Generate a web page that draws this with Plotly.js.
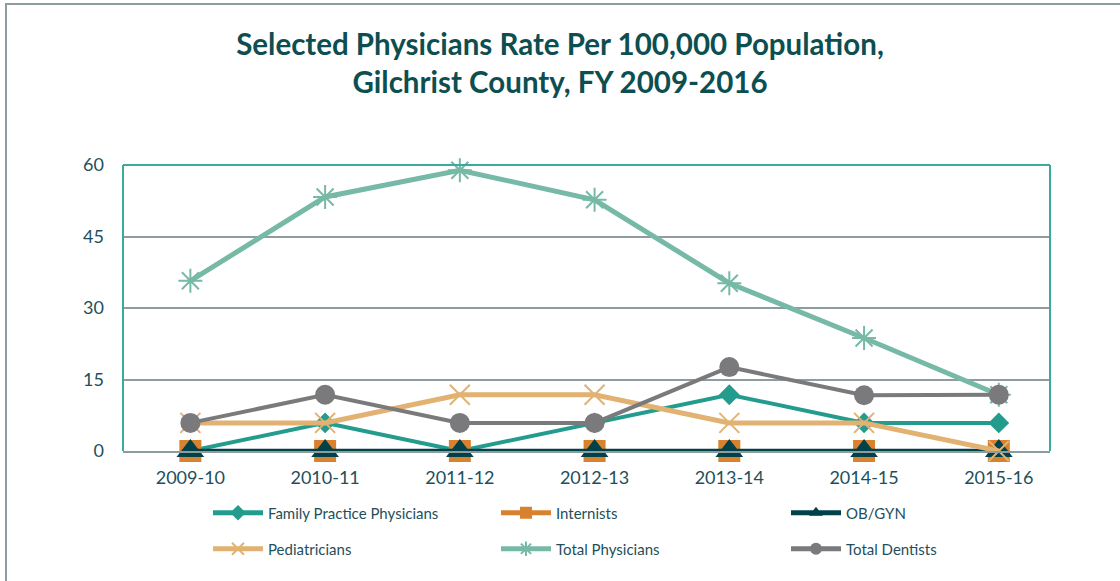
<!DOCTYPE html>
<html>
<head>
<meta charset="utf-8">
<script src="https://cdn.plot.ly/plotly-3.0.1.min.js"></script>
<style>
html,body{margin:0;padding:0;background:#fff;}
#wrap{position:relative;width:1120px;height:581px;overflow:hidden;}
#chart{position:absolute;left:0;top:0;width:1120px;height:581px;}
#ft{position:absolute;left:5px;top:3px;width:1115px;height:2px;background:#8C9CA0;}
#fl{position:absolute;left:5px;top:3px;width:2px;height:578px;background:#8C9CA0;}
</style>
</head>
<body>
<div id="wrap"><div id="chart"></div><div id="ft"></div><div id="fl"></div></div>
<script>
const years = ["2009-10","2010-11","2011-12","2012-13","2013-14","2014-15","2015-16"];
const familyPractice = [0, 5.9, 0, 5.9, 11.8, 5.9, 5.9];
const internists = [0, 0, 0, 0, 0, 0, 0];
const obgyn = [0, 0, 0, 0, 0, 0, 0];
const pediatricians = [5.9, 5.9, 11.8, 11.8, 5.9, 5.9, 0];
const totalPhysicians = [35.7, 53.3, 58.9, 52.7, 35.2, 23.7, 11.8];
const totalDentists = [5.9, 11.8, 5.9, 5.9, 17.6, 11.7, 11.8];
const yTicks = [0, 15, 30, 45, 60];

const txt = '#1E4F5B';
const font = 'Lato, "Open Sans", sans-serif';

// plot area in pixels
const PL = 123, PW = 927, PT = 165, PH = 286;
const legendCols = [211, 499, 789];
const legendRows = [513, 549];

const specs = [
  {name:'Family Practice Physicians', y: familyPractice, color:'#239C8E', width:4, symbol:'diamond', size:16},
  {name:'Internists', y: internists, color:'#D8812F', width:4, symbol:'square', size:22},
  {name:'OB/GYN', y: obgyn, color:'#00414A', width:4.5, symbol:'triangle-up', size:24},
  {name:'Pediatricians', y: pediatricians, color:'#E1B272', width:5, symbol:'x-thin-open', size:20},
  {name:'Total Physicians', y: totalPhysicians, color:'#77B9A7', width:5, symbol:'asterisk-open', size:20},
  {name:'Total Dentists', y: totalDentists, color:'#7A7A7C', width:4, symbol:'circle', size:20}
];

const traces = specs.map((t, i) => {
  const open = t.symbol.indexOf('open') >= 0;
  return {
    type:'scatter', mode:'lines+markers', x: years, y: t.y, name: t.name,
    legend: i === 0 ? 'legend' : 'legend' + (i + 1),
    line:{color:t.color, width:t.width},
    marker:{symbol:t.symbol, size:t.size, color:t.color, line:{color:t.color, width: open ? 2 : 0}},
    cliponaxis:false, hoverinfo:'none'
  };
});

const layout = {
  width:1120, height:581,
  margin:{l:PL, r:1120-PL-PW, t:PT, b:581-PT-PH},
  paper_bgcolor:'#fff', plot_bgcolor:'#fff',
  font:{family:font, color:txt},
  title:{text:'<b>Selected Physicians Rate Per 100,000 Population,<br>Gilchrist County, FY 2009-2016</b>',
    font:{family:font, size:29.5, color:'#0D4F51'}, x:0.5, xanchor:'center', y:0.906, yanchor:'top', yref:'container'},
  xaxis:{type:'category', range:[-0.5, 6.38], showgrid:false, zeroline:false,
    showline:true, linecolor:'#8C9CA0', linewidth:2, ticks:'', tickfont:{size:18, color:txt, family:font},
    ticklabelstandoff:9, fixedrange:true},
  yaxis:{range:[0,60], tickvals:yTicks, ticktext:yTicks.map(String), showgrid:true, gridcolor:'#8E9CA0', gridwidth:2,
    zeroline:false, showline:false, ticks:'', tickfont:{size:18, color:txt, family:font}, ticklabelstandoff:18, fixedrange:true},
  shapes:[
    {type:'line', xref:'paper', yref:'paper', x0:0, x1:1, y0:1, y1:1, line:{color:'#3BA99C', width:2}},
    {type:'line', xref:'paper', yref:'paper', x0:0, x1:0, y0:0, y1:1, line:{color:'#3BA99C', width:2}},
    {type:'line', xref:'paper', yref:'paper', x0:1, x1:1, y0:0, y1:1, line:{color:'#3BA99C', width:2}}
  ],
  showlegend:true
};

specs.forEach((t, i) => {
  const key = i === 0 ? 'legend' : 'legend' + (i + 1);
  const col = i % 3, row = Math.floor(i / 3);
  layout[key] = {
    orientation:'h', xref:'paper', yref:'paper',
    x:(legendCols[col] - 3 - PL) / PW, xanchor:'left',
    y:(PT + PH - legendRows[row]) / PH, yanchor:'middle',
    font:{size:15, color:txt, family:font}, bgcolor:'rgba(0,0,0,0)',
    itemsizing:'constant', itemwidth:50, borderwidth:0
  };
});

Plotly.newPlot('chart', traces, layout, {staticPlot:true, displayModeBar:false});
</script>
</body>
</html>
